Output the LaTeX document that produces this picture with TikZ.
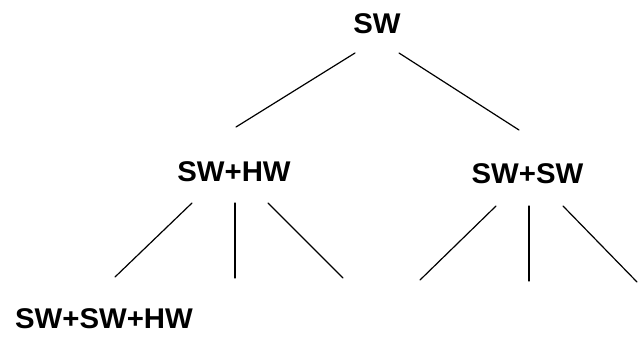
\documentclass[tikz,border=0pt]{standalone}
\usepackage{fontspec}
\setmainfont{Liberation Sans}[FakeStretch=1.03]
\begin{document}
\begin{tikzpicture}[x=1bp,y=-1bp,
  lab/.style={inner sep=0pt, font=\fontsize{28.5bp}{34bp}\selectfont\bfseries},
  edge/.style={line width=1.2bp, line cap=round}]
\useasboundingbox (0,0) rectangle (640,336);
% labels
\node[lab] (root) at (377,24) {SW};
\node[lab] (a) at (234,172) {SW+HW};
\node[lab] (b) at (527.5,173.5) {SW+SW};
\node[lab] (aa) at (104,319) {SW+SW+HW};
% connector ends
\coordinate (rL) at (355,53);
\coordinate (rR) at (399,53);
\coordinate (aT) at (236,127);
\coordinate (bT) at (519,130);
\coordinate (a1t) at (192,203);
\coordinate (a1b) at (115,277);
\coordinate (a2t) at (235,203);
\coordinate (a2b) at (235,278);
\coordinate (a3t) at (268,203);
\coordinate (a3b) at (343,278);
\coordinate (b1t) at (496,206);
\coordinate (b1b) at (420,280);
\coordinate (b2t) at (529,206);
\coordinate (b2b) at (529,281);
\coordinate (b3t) at (563,206);
\coordinate (b3b) at (637,282);
% connectors
\draw[edge] (rL) -- (aT);
\draw[edge] (rR) -- (bT);
\draw[edge] (a1t) -- (a1b);
\draw[edge] (a2t) -- (a2b);
\draw[edge] (a3t) -- (a3b);
\draw[edge] (b1t) -- (b1b);
\draw[edge] (b2t) -- (b2b);
\draw[edge] (b3t) -- (b3b);
\end{tikzpicture}
\end{document}
